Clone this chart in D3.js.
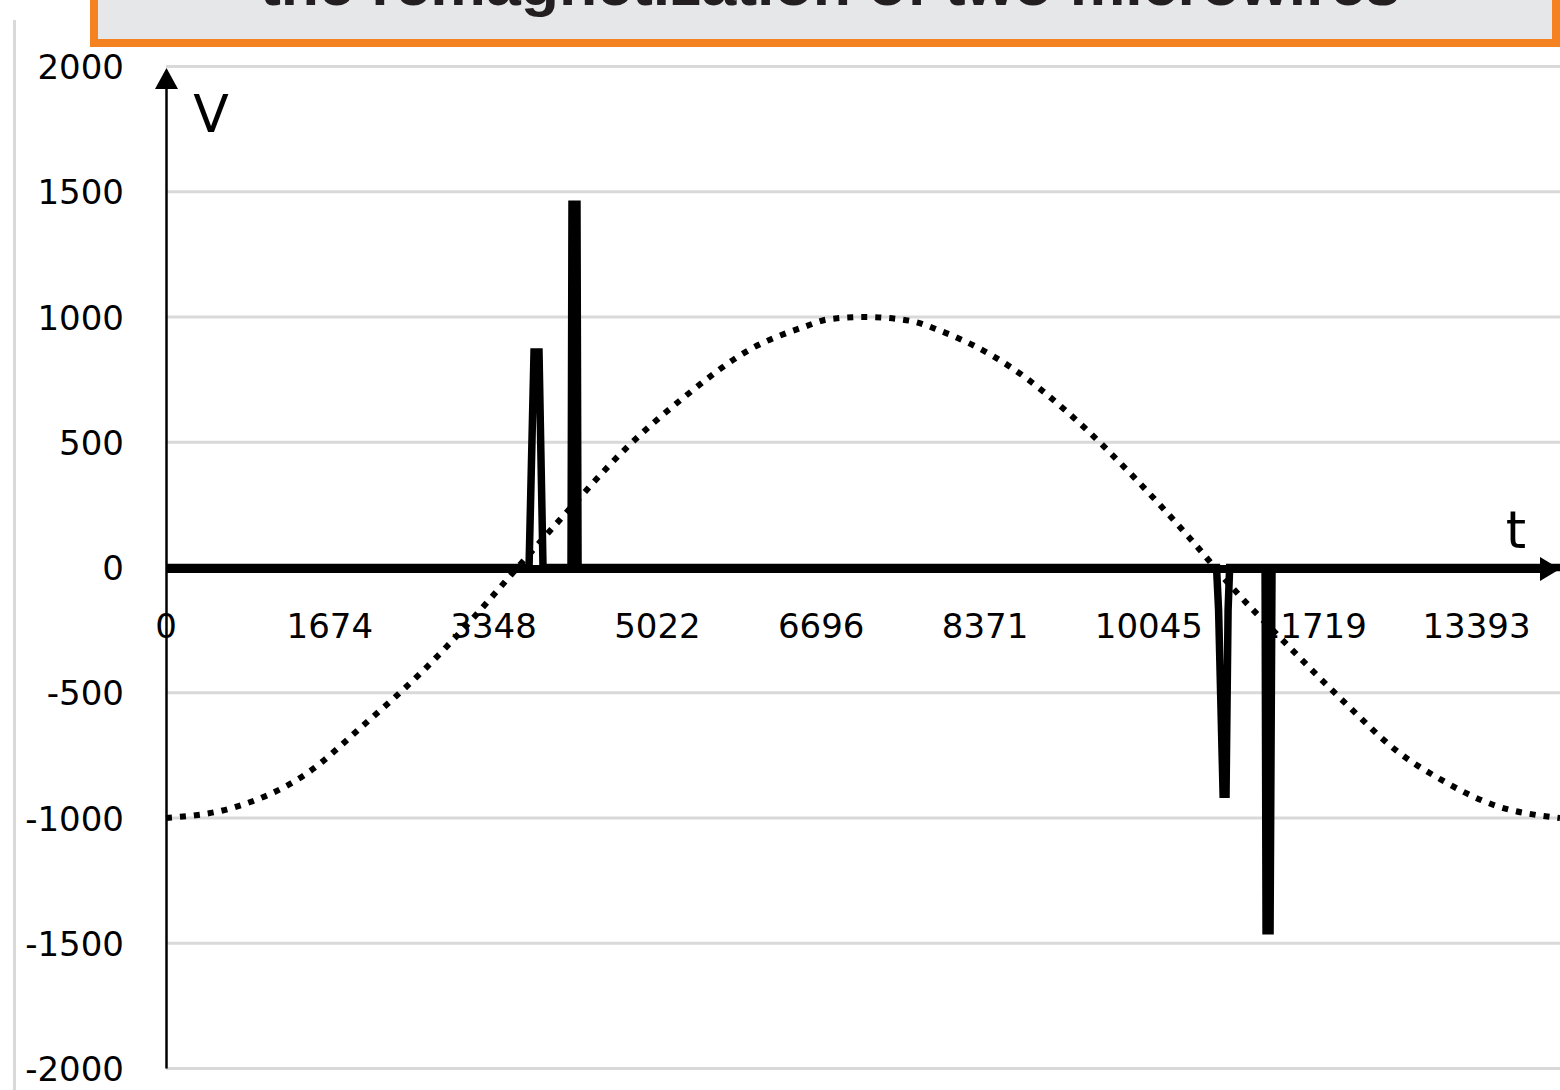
<!DOCTYPE html>
<html>
<head>
<meta charset="utf-8">
<script src="https://cdn.jsdelivr.net/npm/d3@7"></script>
<style>
  html, body { margin: 0; padding: 0; background: #fff; }
  svg { display: block; }
</style>
</head>
<body>
<script>
// Applied field (dotted): time samples and values
const fieldTime = [0, 675, 1421, 2034, 2627, 3107, 3485, 4047, 4691, 5304, 5989, 6510, 6786, 7154,
  7604, 7900, 8636, 9270, 9903, 10465, 10905, 11406, 12080, 12561, 13030, 13562, 14246];
const fieldValue = [-1000, -960, -827, -624, -412, -216, -48, 200, 472, 683, 875, 959, 992, 1000,
  985, 947, 799, 600, 356, 116, -84, -288, -552, -727, -847, -947, -1000];

// Induced voltage pulses (thick solid line)
const pulseTime = [0, 3710, 3761, 3812, 3853, 4139, 4149, 4200, 4211,
  10736, 10757, 10803, 10833, 10854, 10870, 11232, 11242, 11283, 11303, 14246];
const pulseValue = [0, 0, 860, 860, 0, 0, 1450, 1450, 0,
  0, -170, -905, -905, -170, 0, 0, -1450, -1450, 0, 0];

const yTicks = [2000, 1500, 1000, 500, 0, -500, -1000, -1500, -2000];
const xTickLabels = ["0", "1674", "3348", "5022", "6696", "8371", "10045", "11719", "13393"];

const titleText = "the remagnetization of two microwires";
const yAxisName = "V";
const xAxisName = "t";

const W = 1560, H = 1090;
const svg = d3.select("body").append("svg").attr("width", W).attr("height", H);

const x = d3.scaleLinear().domain([0, 14246]).range([166, 1560]);
const y = d3.scaleLinear().domain([-2000, 2000]).range([1068.5, 66.5]);

// outer frame line on the left
svg.append("line")
  .attr("x1", 14.5).attr("x2", 14.5).attr("y1", 20).attr("y2", H)
  .attr("stroke", "#d9d9d9").attr("stroke-width", 3);

// title box
svg.append("rect")
  .attr("x", 94).attr("y", -30).attr("width", 1462).attr("height", 73)
  .attr("fill", "#e6e7e8").attr("stroke", "#f58220").attr("stroke-width", 8);
svg.append("text")
  .attr("x", 830).attr("y", 5)
  .attr("text-anchor", "middle")
  .attr("font-family", "'Liberation Sans', Arial, sans-serif")
  .attr("font-weight", "bold").attr("font-size", 60)
  .attr("textLength", 1140).attr("lengthAdjust", "spacingAndGlyphs")
  .attr("fill", "#231f20")
  .text(titleText);

// horizontal gridlines
svg.append("g").selectAll("line").data(yTicks).join("line")
  .attr("x1", x(0)).attr("x2", W)
  .attr("y1", d => y(d)).attr("y2", d => y(d))
  .attr("stroke", "#d9d9d9").attr("stroke-width", 3);

const labelFont = "'DejaVu Sans', Verdana, sans-serif";

// y tick labels
svg.append("g").selectAll("text").data(yTicks).join("text")
  .attr("x", 124).attr("y", d => y(d) + 12.5)
  .attr("text-anchor", "end")
  .attr("font-family", labelFont).attr("font-size", 34)
  .attr("fill", "#000")
  .text(d => String(d));

// x tick labels
svg.append("g").selectAll("text").data(xTickLabels).join("text")
  .attr("x", d => x(+d)).attr("y", 638)
  .attr("text-anchor", "middle")
  .attr("font-family", labelFont).attr("font-size", 34)
  .attr("fill", "#000")
  .text(d => d);

// y axis with arrow
svg.append("line")
  .attr("x1", 166.5).attr("x2", 166.5).attr("y1", 86).attr("y2", 1068.5)
  .attr("stroke", "#000").attr("stroke-width", 2.5);
svg.append("path")
  .attr("d", "M166.5,68 L178,89 L155,89 Z")
  .attr("fill", "#000");

// x axis with arrow
svg.append("line")
  .attr("x1", 166).attr("x2", 1544).attr("y1", 569).attr("y2", 569)
  .attr("stroke", "#000").attr("stroke-width", 8);
svg.append("path")
  .attr("d", "M1540,557 L1560,569 L1540,581 Z")
  .attr("fill", "#000");

// axis names
svg.append("text")
  .attr("x", 211).attr("y", 132)
  .attr("text-anchor", "middle")
  .attr("font-family", labelFont).attr("font-size", 52)
  .attr("fill", "#000")
  .text(yAxisName);
svg.append("text")
  .attr("x", 1516).attr("y", 548)
  .attr("text-anchor", "middle")
  .attr("font-family", labelFont).attr("font-size", 52)
  .attr("fill", "#000")
  .text(xAxisName);

// voltage pulses
const pulseLine = d3.line().x(d => x(d[0])).y(d => y(d[1]));
svg.append("path")
  .datum(d3.zip(pulseTime, pulseValue))
  .attr("d", pulseLine)
  .attr("fill", "none").attr("stroke", "#000")
  .attr("stroke-width", 7.5).attr("stroke-linejoin", "miter");

// applied field, dotted
const fieldLine = d3.line().x(d => x(d[0])).y(d => y(d[1])).curve(d3.curveMonotoneX);
svg.append("path")
  .datum(d3.zip(fieldTime, fieldValue))
  .attr("d", fieldLine)
  .attr("fill", "none").attr("stroke", "#000")
  .attr("stroke-width", 6).attr("stroke-dasharray", "6,8");
</script>
</body>
</html>
